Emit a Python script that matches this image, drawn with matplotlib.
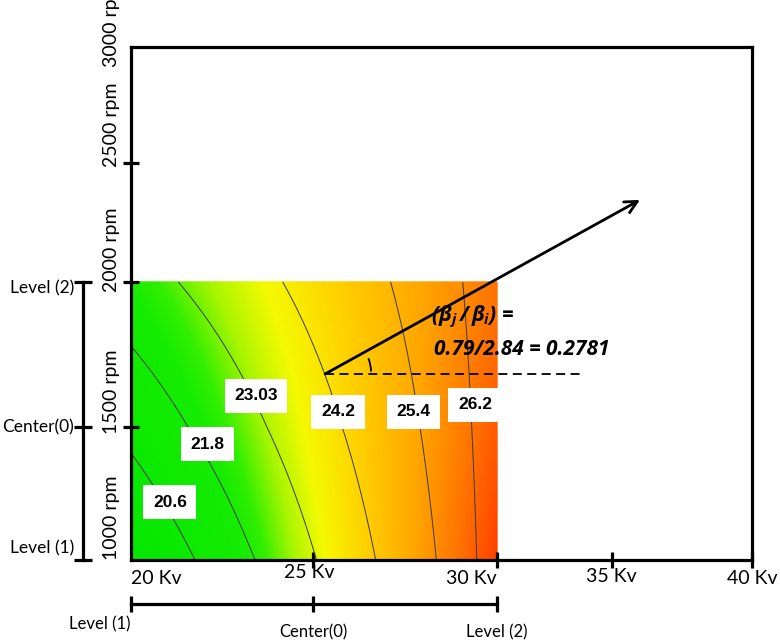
import numpy as np
import matplotlib
matplotlib.use("Agg")
import matplotlib.pyplot as plt
from matplotlib.colors import LinearSegmentedColormap, Normalize
from matplotlib.patches import Arc
import matplotlib.transforms as mtransforms

# ---------------- data ----------------
kv_ticks = [20, 25, 30, 35, 40]
kv_labels = ["20 Kv", "25 Kv", "30 Kv", "35 Kv", "40 Kv"]
rpm_ticks = [1000, 1500, 2000, 2500, 3000]
rpm_labels = ["1000 rpm", "1500 rpm", "2000 rpm", "2500 rpm", "3000 rpm"]

kv_levels = [20, 25, 30]
rpm_levels = [1000, 1500, 2000]
kv_level_labels = ["Level (1)", "Center(0)", "Level (2)"]
rpm_level_labels = ["Level (1)", "Center(0)", "Level (2)"]

# fitted response surface in coded units (intercept, kv, rpm, kv*rpm)
coef_b0 = 23.75
coef_kv = 2.84
coef_rpm = 0.79
coef_int = -0.80

contour_levels = [20.6, 21.8, 23.03, 24.2, 25.4, 26.2]
contour_texts = ["20.6", "21.8", "23.03", "24.2", "25.4", "26.2"]
contour_label_kv = [21.07, 22.09, 23.43, 25.68, 27.72, 29.40]
contour_label_rpm = [1218, 1436, 1607, 1552, 1552, 1576]

arrow_start = (25.33, 1683)
arrow_end = (36.0, 2345)
dash_end_kv = 33.7
ratio_line1 = r"$(\beta_j\,/\,\beta_i)$ ="
ratio_line2 = "0.79/2.84 = 0.2781"

# ---------------- layout / style ----------------
X_POS = [0, 182, 366, 481, 621]
Y_POS = [0, 133, 278, 397, 513]
SHADE_RPM_WEIGHT = 0.5   # the shading gradient is tilted less than the contours


def make_pw(xs, ps):
    xs = np.asarray(xs, float)
    ps = np.asarray(ps, float)
    s0 = (ps[1] - ps[0]) / (xs[1] - xs[0])
    s1 = (ps[-1] - ps[-2]) / (xs[-1] - xs[-2])

    def f(v, a, b, sa, sb):
        v = np.asarray(v, float)
        out = np.interp(v, a, b)
        out = np.where(v < a[0], b[0] + (v - a[0]) * sa, out)
        out = np.where(v > a[-1], b[-1] + (v - a[-1]) * sb, out)
        return out

    fwd = lambda v: f(v, xs, ps, s0, s1)
    inv = lambda p: f(p, ps, xs, 1 / s0, 1 / s1)
    return fwd, inv


plt.rcParams['font.family'] = ['Lato', 'DejaVu Sans']
plt.rcParams['mathtext.fontset'] = 'custom'
plt.rcParams['mathtext.rm'] = 'Open Sans:bold:italic'
plt.rcParams['mathtext.it'] = 'Open Sans:bold:italic'
plt.rcParams['mathtext.bf'] = 'Open Sans:bold:italic'

W, H = 780, 641
fig = plt.figure(figsize=(W / 100, H / 100), dpi=100)
ax = fig.add_axes([131 / W, (H - 560) / H, 621 / W, 513 / H])

fx, ix = make_pw(kv_ticks, X_POS)
fy, iy = make_pw(rpm_ticks, Y_POS)
ax.set_xscale('function', functions=(fx, ix))
ax.set_yscale('function', functions=(fy, iy))
ax.set_xlim(kv_ticks[0], kv_ticks[-1])
ax.set_ylim(rpm_ticks[0], rpm_ticks[-1])

# surface
K, R = np.meshgrid(np.linspace(20, 30, 300), np.linspace(1000, 2000, 300))
Xc = (K - 25) / 5
Yc = (R - 1500) / 500
Z = coef_b0 + coef_kv * Xc + coef_rpm * Yc + coef_int * Xc * Yc
Zshade = coef_b0 + coef_kv * Xc + SHADE_RPM_WEIGHT * coef_rpm * Yc + coef_int * Xc * Yc

vmin, vmax = 19.0, 27.0
stops = [(19.0, (0, 228, 0)), (22.0, (20, 236, 0)), (22.4, (50, 238, 0)),
         (23.0, (170, 245, 0)), (23.6, (245, 250, 0)), (24.4, (255, 210, 0)),
         (25.4, (255, 165, 0)), (26.4, (255, 105, 0)), (27.0, (255, 65, 0))]
cmap = LinearSegmentedColormap.from_list(
    "gyr", [((v - vmin) / (vmax - vmin), tuple(c / 255 for c in col)) for v, col in stops])
ax.pcolormesh(K, R, Zshade, cmap=cmap, norm=Normalize(vmin, vmax), shading='gouraud', zorder=1)
ax.contour(K, R, Z, levels=contour_levels, colors='#3a3a3a', linewidths=0.7, zorder=2)

for t, kx, ry in zip(contour_texts, contour_label_kv, contour_label_rpm):
    ax.text(kx, ry, t, ha='center', va='center', fontsize=12.5, fontweight='bold',
            family=['Liberation Sans', 'DejaVu Sans'], zorder=5,
            bbox=dict(boxstyle='square,pad=0.55', fc='white', ec='none'))

# spines & ticks
for s in ax.spines.values():
    s.set_linewidth(2.3)
    s.set_color('black')
ax.set_xticks(kv_ticks[1:])
ax.set_yticks(rpm_ticks[1:4])
ax.set_xticklabels([])
ax.set_yticklabels([])
ax.xaxis.set_minor_locator(matplotlib.ticker.NullLocator())
ax.yaxis.set_minor_locator(matplotlib.ticker.NullLocator())
ax.tick_params(direction='inout', length=12, width=2.3, color='black')

# tick label texts (placed like the reference)
bx = mtransforms.blended_transform_factory(ax.transData, ax.transAxes)
by = mtransforms.blended_transform_factory(ax.transAxes, ax.transData)
P = 0.72  # px -> pt
x_off = [(25, -18), (-4, -13), (-26, -18), (-1, -17), (0, -19)]
for k, lab, (dx, dy) in zip(kv_ticks, kv_labels, x_off):
    ax.annotate(lab, xy=(k, 0), xycoords=bx, xytext=(dx * P, dy * P),
                textcoords='offset points', ha='center', va='center',
                fontsize=14, annotation_clip=False)
y_off = [42, 35, 32, 38, 22]
for r, lab, dy in zip(rpm_ticks, rpm_labels, y_off):
    ax.annotate(lab, xy=(0, r), xycoords=by, xytext=(-19 * P, dy * P),
                textcoords='offset points', ha='center', va='center',
                rotation=90, fontsize=14, annotation_clip=False)

# level bars
ybar = -44 / 513
ax.plot(kv_levels, [ybar] * 3, transform=bx, color='black', lw=2.3,
        marker='|', ms=12, mew=2.3, clip_on=False)
lvl_off = [(-31, -20), (0, -28), (0, -28)]
for k, lab, (dx, dy) in zip(kv_levels, kv_level_labels, lvl_off):
    ax.annotate(lab, xy=(k, ybar), xycoords=bx, xytext=(dx * P, dy * P),
                textcoords='offset points', ha='center', va='center',
                fontsize=12, annotation_clip=False)

xbar = -48 / 621
ax.plot([xbar] * 3, rpm_levels, transform=by, color='black', lw=2.3,
        marker='_', ms=13, mew=2.3, clip_on=False)
lvl_yoff = [12, 0, -6]
for r, lab, dy in zip(rpm_levels, rpm_level_labels, lvl_yoff):
    ax.annotate(lab, xy=(xbar, r), xycoords=by, xytext=(-9 * P, dy * P),
                textcoords='offset points', ha='right', va='center',
                fontsize=12.5, annotation_clip=False)

# direction arrow, reference line and angle
ax.annotate("", xy=arrow_end, xytext=arrow_start,
            arrowprops=dict(arrowstyle='->', lw=2, color='black',
                            mutation_scale=22, shrinkA=0, shrinkB=0),
            annotation_clip=False, zorder=6)
ax.plot([arrow_start[0], dash_end_kv], [arrow_start[1]] * 2, color='black',
        lw=1.3, ls=(0, (5, 3)), zorder=6)

p0 = ax.transData.transform(arrow_start)
arc = Arc(p0, 92, 92, theta1=3, theta2=20, transform=mtransforms.IdentityTransform(),
          color='black', lw=1.3, zorder=6)
ax.add_patch(arc)

ax.text(28.2, 1880, ratio_line1, fontsize=15, fontweight='bold', style='italic',
        family='Open Sans', ha='left', va='center', zorder=7)
ax.text(28.3, 1768, ratio_line2, fontsize=15, fontweight='bold', style='italic',
        family='Open Sans', ha='left', va='center', zorder=7)

fig.savefig("out.png", dpi=100, facecolor='white')
